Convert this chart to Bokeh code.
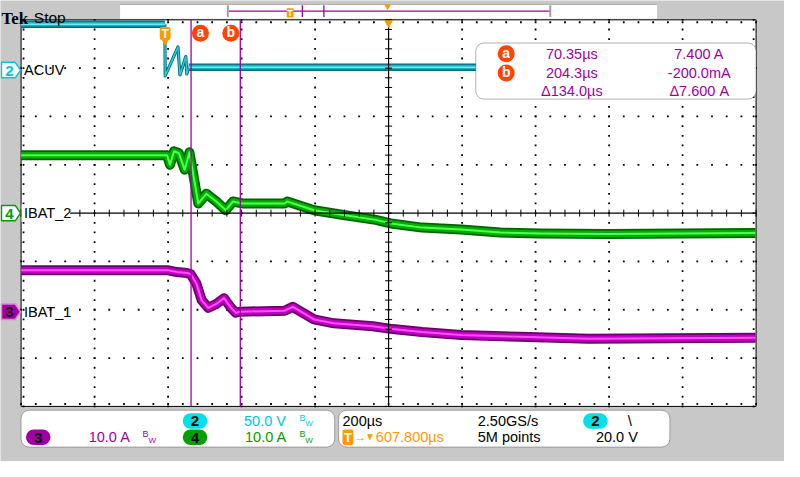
import numpy as np
from bokeh.plotting import figure
from bokeh.models import BoxAnnotation, Range1d, ColumnDataSource
from bokeh.core.properties import value
from bokeh.embed import file_html
from bokeh.resources import INLINE

# ---------------- data ----------------
time_per_div = 200.0          # us / div
h_position = 607.8            # us from trigger to screen centre

# channel 2 : ACUV, 50 V/div
acuv_t = [-392.0, -1.0, 0.0, 34.7, 40.0, 56.0, 58.7, 64.0, 1606.0]
acuv_v = [47.5, 47.5, -6.0, 24.0, -5.0, 14.0, -4.0, 3.0, 3.0]
ch2_scale = 50.0
ch2_offset = 2.96             # divisions

# channel 4 : IBAT_2, 10 A/div
ibat2_t = [-392, 5, 13, 24, 37, 53, 66, 90, 112, 139, 165, 184, 210, 325, 332,
           405, 485, 573, 619, 699, 805, 912, 1019, 1205, 1606]
ibat2_a = [12.0, 12.0, 10.0, 12.8, 12.4, 9.0, 12.6, 2.0, 4.0, 2.4, 0.6, 2.4, 2.0, 2.0, 2.4,
           0.6, -0.4, -1.4, -2.2, -3.0, -3.4, -4.0, -4.2, -4.3, -4.1]
ch4_scale = 10.0
ch4_offset = 0.0

# channel 3 : IBAT_1, 10 A/div
ibat1_t = [-392, 5, 32, 59, 69, 85, 99, 117, 139, 160, 179, 192, 205, 325, 347,
           405, 459, 565, 619, 699, 805, 965, 1152, 1606]
ibat1_a = [8.6, 8.6, 8.2, 8.0, 7.8, 5.8, 2.4, 0.8, 1.6, 2.8, 0.8, -0.2, 0.0, 0.2, 1.0,
           -1.6, -2.4, -3.0, -3.6, -4.2, -4.8, -5.2, -5.6, -5.4]
ch3_scale = 10.0
ch3_offset = -2.04

# cursors
cursor_t = [70.35, 204.3]
cursor_names = ["a", "b"]
cursor_time_txt = ["70.35\u00b5s", "204.3\u00b5s", "\u0394134.0\u00b5s"]
cursor_val_txt = ["7.400 A", "-200.0mA", "\u03947.600 A"]

# colours
GRAY = "#c8c8c8"
CYAN = "#00c8d8"
GREEN = "#00a000"
PURPLE = "#a000a0"
ORANGE = "#ff9900"
RED = "#ff4400"
FONT = "Liberation Sans"

# reference-pixel -> data helpers (75 px per x division, 50 px per y division)
def px(X):
    return h_position + (X - 396.0) * time_per_div / 75.0

def py(Y):
    return (220.0 - Y) / 50.0

p = figure(width=784, height=461, x_range=Range1d(px(0), px(800)),
           y_range=Range1d(py(477), py(0)), output_backend="svg",
           toolbar_location=None, x_axis_type=None, y_axis_type=None,
           min_border=0, background_fill_color=GRAY, border_fill_color=GRAY,
           outline_line_color=None)
p.min_border_left = p.min_border_right = p.min_border_top = p.min_border_bottom = 0


def txt(X, Y, s, color="black", size=14.5, align="left", style="normal",
        baseline="middle", font=FONT):
    r = p.text(x=[px(X)], y=[py(Y)], text=[s], text_color=color,
               text_font=value(font), text_font_size=f"{size}px",
               text_align=align, text_baseline=baseline, text_font_style=style)
    r.level = "overlay"
    return r


# ---------------- graticule ----------------
p.quad(left=px(21), right=px(771), top=py(20), bottom=py(420),
       fill_color="white", line_color="black", line_width=1)

fine_x = np.round(np.arange(-25, 26) * 0.2, 6)
fine_y = np.round(np.arange(-20, 21) * 0.2, 6)
dx, dy = [], []
for gx in [-4, -3, -2, -1, 1, 2, 3, 4]:
    for fy in fine_y:
        dx.append(h_position + gx * time_per_div)
        dy.append(fy)
for gy in [-3, -2, -1, 1, 2, 3]:
    for fx in fine_x:
        dx.append(h_position + fx * time_per_div)
        dy.append(gy)
for fx in fine_x:
    dx += [h_position + fx * time_per_div] * 2
    dy += [py(22.5), py(417.5)]
for fy in fine_y:
    dx += [px(23.5), px(768.5)]
    dy += [fy, fy]
p.scatter(dx, dy, marker="square", size=1.8, fill_color="black", line_color=None)

# ---------------- traces ----------------
def band(t, ydiv, dark, mid, bright, w, bw=None):
    src = ColumnDataSource(dict(t=t, y=ydiv))
    p.line("t", "y", source=src, line_color=dark, line_width=w, line_join="round")
    p.line("t", "y", source=src, line_color=mid, line_width=w * 0.65, line_join="round")
    p.line("t", "y", source=src, line_color=bright, line_width=bw or max(1.4, w * 0.2),
           line_join="round")

acuv_div = list(np.array(acuv_v) / ch2_scale + ch2_offset)
# fast transition drawn thin, flat parts as a thick band
p.line(acuv_t[1:8], acuv_div[1:8], line_color="#00707a", line_width=3.2, line_join="round")
p.line(acuv_t[1:8], acuv_div[1:8], line_color="#30c8d8", line_width=1.4, line_join="round")
band(acuv_t[0:2], acuv_div[0:2], "#006a72", "#18b0c0", "#70e8f8", 7.5, 1.6)
band(acuv_t[7:9], acuv_div[7:9], "#006a72", "#18b0c0", "#70e8f8", 7.5, 1.6)

band(ibat2_t, list(np.array(ibat2_a) / ch4_scale + ch4_offset),
     "#006400", "#00b000", "#50ff50", 10)
band(ibat1_t, list(np.array(ibat1_a) / ch3_scale + ch3_offset),
     "#6a006a", "#c000c0", "#ff50ff", 10)

# centre cross-hair with ticks
p.line([h_position, h_position], [-4, 4], line_color="black", line_width=1.2)
p.line([px(21), px(771)], [0, 0], line_color="black", line_width=1.2)
p.scatter([h_position] * len(fine_y), fine_y, marker="dash", size=7,
          line_color="black", line_width=1)
p.scatter(list(h_position + fine_x * time_per_div), [0] * len(fine_x), marker="dash",
          angle=np.pi / 2, size=7, line_color="black", line_width=1)

# cursors
p.segment(x0=cursor_t, y0=[py(20)] * 2, x1=cursor_t, y1=[py(420)] * 2,
          line_color=PURPLE, line_width=1.3)

# ---------------- channel labels and markers ----------------
p.quad(left=px(21.5), right=px(71), top=py(211), bottom=py(229),
       fill_color="white", line_color=None)
txt(24, 72, "ACUV")
txt(24, 220, "IBAT_2")
txt(24, 322, "IBAT_1")

def marker(Yc, fill, edge, digit, dcolor):
    p.patch([px(1), px(15), px(20.5), px(15), px(1)],
            [py(Yc - 8), py(Yc - 8), py(Yc), py(Yc + 8), py(Yc + 8)],
            fill_color=fill, line_color=edge, line_width=1.5)
    txt(9, Yc + 0.5, digit, color=dcolor, size=15, align="center", style="bold")

marker(72, "white", CYAN, "2", CYAN)
marker(220, "white", GREEN, "4", GREEN)
marker(322, PURPLE, "#e080e0", "3", "#1a001a")

# trigger marker
p.add_layout(BoxAnnotation(left=px(162.5), right=px(173.5), top=py(27.5), bottom=py(41),
                           fill_color=ORANGE, fill_alpha=1, line_color=None, border_radius=2))
tr = p.scatter([px(168)], [py(42)], marker="inverted_triangle", size=8,
               fill_color=ORANGE, line_color=None)
tr.level = "overlay"
txt(168, 34.5, "T", color="white", size=12, align="center", style="bold")
tri = p.scatter([h_position], [py(23)], marker="inverted_triangle", size=9,
                fill_color=ORANGE, line_color=None)

# cursor badges above the traces
badge_x = [204, 235]
for bx, name in zip(badge_x, cursor_names):
    r = p.scatter([px(bx)], [py(34)], marker="circle", size=17, fill_color=RED,
                  line_color=None)
    r.level = "overlay"
    txt(bx, 33, name, color="white", size=14, align="center", style="bold")

# ---------------- cursor readout ----------------
p.add_layout(BoxAnnotation(left=px(485), right=px(771), top=py(44), bottom=py(102),
                           fill_color="white", fill_alpha=1, line_color="black",
                           line_width=1, border_radius=8))
rows = [55, 75, 94]
for i, Yr in enumerate(rows):
    if i < 2:
        r = p.scatter([px(516)], [py(Yr)], marker="circle", size=17, fill_color=RED,
                      line_color=None)
        r.level = "overlay"
        txt(516, Yr - 1, cursor_names[i], color="white", size=14, align="center",
            style="bold")
    txt(583, Yr, cursor_time_txt[i], color=PURPLE, align="center")
    txt(713, Yr, cursor_val_txt[i], color=PURPLE, align="center")

# ---------------- top bar ----------------
p.quad(left=px(122), right=px(670), top=py(4), bottom=py(19), fill_color="white",
       line_color=None)
p.line([px(122), px(670)], [py(4), py(4)], line_color="#a8a8a8", line_width=1)
txt(1, 19, "Tek", size=17, style="bold", baseline="alphabetic", font="Liberation Serif")
txt(34, 18, "Stop", size=15.5, baseline="alphabetic")
p.line([px(233), px(561)], [py(11), py(11)], line_color=PURPLE, line_width=1.3)
p.segment(x0=[px(232), px(561)], y0=[py(5)] * 2, x1=[px(232), px(561)], y1=[py(17)] * 2,
          line_color="#a0a0a0", line_width=2)
p.segment(x0=[px(308), px(330)], y0=[py(5)] * 2, x1=[px(308), px(330)], y1=[py(17)] * 2,
          line_color=PURPLE, line_width=1.3)
p.quad(left=px(292), right=px(299), top=py(8), bottom=py(17.5), fill_color=ORANGE,
       line_color=None)
txt(295.5, 13, "T", color="white", size=9, align="center", style="bold")
tri2 = p.scatter([px(395)], [py(6)], marker="inverted_triangle", size=7,
                 fill_color=ORANGE, line_color=None)

# ---------------- bottom boxes ----------------
p.add_layout(BoxAnnotation(left=px(21), right=px(341), top=py(424), bottom=py(462),
                           fill_color="white", fill_alpha=1, line_color="black",
                           line_width=1, border_radius=8))
p.add_layout(BoxAnnotation(left=px(345), right=px(683), top=py(424), bottom=py(462),
                           fill_color="white", fill_alpha=1, line_color="black",
                           line_width=1, border_radius=8))

def pill(Xc, Yc, fill, digit):
    p.add_layout(BoxAnnotation(left=px(Xc - 12.5), right=px(Xc + 12.5), top=py(Yc - 8),
                               bottom=py(Yc + 8), fill_color=fill, fill_alpha=1,
                               line_color=None, border_radius=8))
    txt(Xc, Yc + 0.5, digit, color="black", size=15, align="center", style="bold")

def bw(X, Y, color):
    txt(X, Y - 3, "B", color=color, size=9)
    txt(X + 6, Y + 3, "W", color=color, size=8)

pill(198.5, 435, "#00e0e8", "2")
txt(248.5, 435, "50.0 V", color=CYAN)
bw(305, 435, CYAN)
pill(38.5, 452, PURPLE, "3")
txt(90, 452, "10.0 A", color=PURPLE)
bw(145, 452, PURPLE)
pill(198.5, 452, GREEN, "4")
txt(249.5, 452, "10.0 A", color=GREEN)
bw(305, 452, GREEN)

txt(349, 435, "200\u00b5s")
txt(487, 435, "2.50GS/s")
pill(607, 435, "#00e0e8", "2")
txt(640, 435, "\\", size=15)
p.add_layout(BoxAnnotation(left=px(349), right=px(360), top=py(444), bottom=py(460),
                           fill_color=ORANGE, fill_alpha=1, line_color=None,
                           border_radius=2))
txt(354.5, 452.5, "T", color="white", size=13, align="center", style="bold")
txt(361, 452, "\u2192", color=ORANGE, size=12)
txt(372, 451, "\u25bc", color=ORANGE, size=10)
txt(383, 452, "607.800\u00b5s", color=ORANGE)
txt(487, 452, "5M points")
txt(629, 452, "20.0 V", align="center")

open("out.html", "w").write(file_html(p, INLINE))
